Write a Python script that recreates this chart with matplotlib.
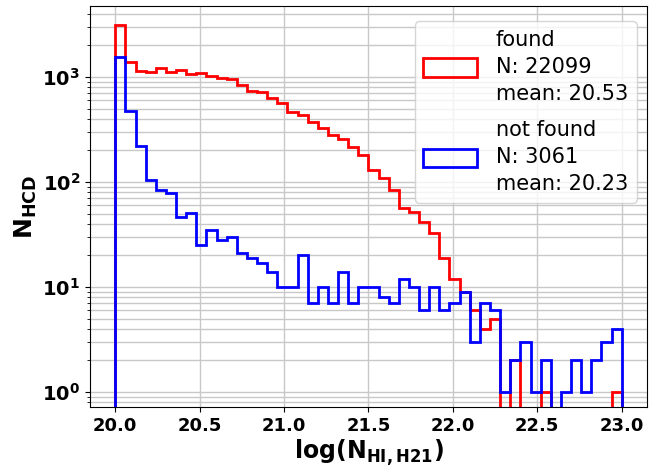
import numpy as np
import matplotlib
matplotlib.use("Agg")
import matplotlib.pyplot as plt
from matplotlib.ticker import FuncFormatter, LogLocator, NullFormatter

# 50 bins of width 0.06 between 20 and 23
bin_lo = 20.0
bin_hi = 23.0
n_bins = 50

found_counts = [3130, 1400, 1140, 1110, 1210, 1110, 1165, 1060, 1080, 1020,
                975, 960, 840, 730, 720, 627, 562, 468, 434, 375,
                325, 280, 255, 217, 181, 130, 108, 83, 56, 52,
                42, 33, 19, 12, 9, 6, 4, 5, 0, 2,
                0, 0, 1, 0, 0, 0, 0, 0, 0, 1]
notfound_counts = [1560, 475, 222, 104, 84, 78, 46, 51, 25, 35,
                   28, 30, 21, 19, 17, 14, 10, 10, 20, 7,
                   10, 7, 14, 7, 10, 10, 8, 7, 12, 10,
                   6, 10, 6, 7, 9, 3, 7, 6, 1, 2,
                   3, 1, 2, 0, 1, 2, 1, 2, 3, 4]

found_label = "found\nN: 22099\nmean: 20.53"
notfound_label = "not found\nN: 3061\nmean: 20.23"

edges = np.linspace(bin_lo, bin_hi, n_bins + 1)
centers = 0.5 * (edges[:-1] + edges[1:])

fig = plt.figure(figsize=(6.71, 4.75), dpi=100)
ax = fig.add_axes([0.1341, 0.1432, 0.8301, 0.8442])

ax.hist(centers, bins=edges, weights=found_counts, histtype='step',
        color='#ff0000', lw=2, label=found_label)
ax.hist(centers, bins=edges, weights=notfound_counts, histtype='step',
        color='#0000ff', lw=2, label=notfound_label)

ax.set_yscale('log')
ax.set_xlim(19.85, 23.15)
ax.set_ylim(0.72, 4740)

ax.set_xticks([20.0, 20.5, 21.0, 21.5, 22.0, 22.5, 23.0])
ax.set_xticklabels(['20.0', '20.5', '21.0', '21.5', '22.0', '22.5', '23.0'],
                   fontsize=13, fontweight='bold')
ax.yaxis.set_major_locator(LogLocator(base=10, numticks=10))
ax.yaxis.set_minor_locator(LogLocator(base=10, subs=np.arange(2, 10), numticks=20))
ax.yaxis.set_major_formatter(FuncFormatter(lambda v, p: r'$\mathbf{10^{%d}}$' % round(np.log10(v))))
ax.yaxis.set_minor_formatter(NullFormatter())
ax.tick_params(axis='y', which='major', labelsize=14)

ax.grid(True, which='major', axis='both', color='#c8c8c8', lw=1)
ax.grid(True, which='minor', axis='y', color='#c8c8c8', lw=1)
ax.set_axisbelow(True)

ax.set_xlabel(r'$\mathbf{log(N_{HI,H21})}$', fontsize=17, labelpad=2)
ax.set_ylabel(r'$\mathbf{N_{HCD}}$', fontsize=18, labelpad=2)

leg = ax.legend(loc='upper right', bbox_to_anchor=(1.0, 0.9875), fontsize=15,
                handlelength=2.6, handleheight=1.0, handletextpad=0.9,
                labelspacing=0.75, borderaxespad=0.5)
for t in leg.get_texts():
    t.set_linespacing(1.45)

fig.savefig('out.png', dpi=100)
